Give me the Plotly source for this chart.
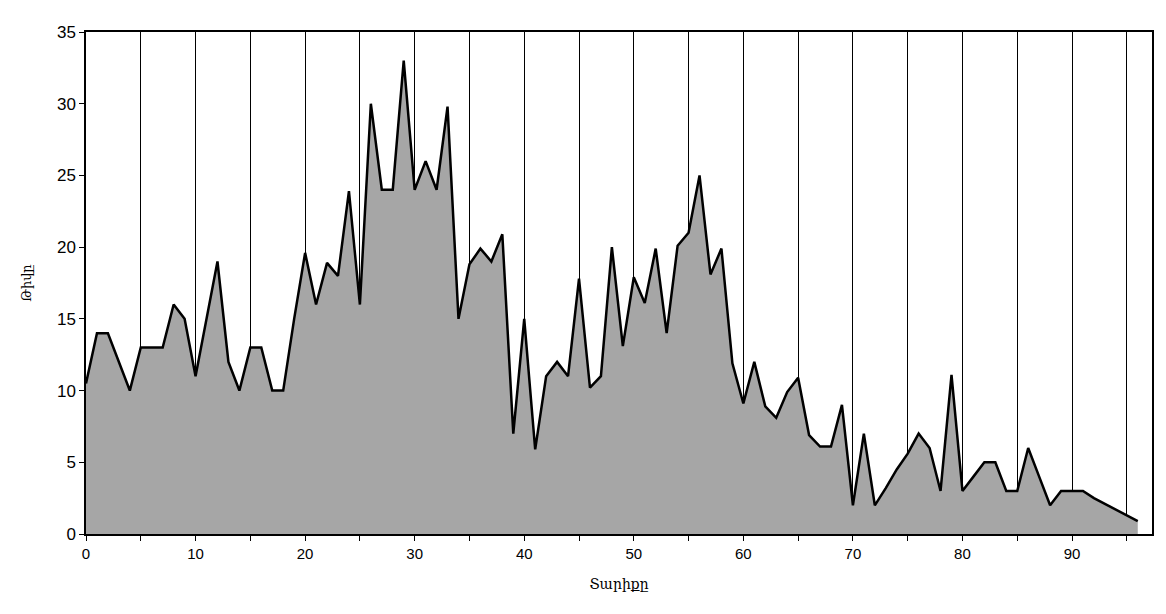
import plotly.graph_objects as go

ages = list(range(0, 97))
counts = [
    10.5, 14, 14, 12, 10, 13, 13, 13, 16, 15,
    11, 15, 19, 12, 10, 13, 13, 10, 10, 15,
    19.6, 16, 18.9, 18, 23.9, 16, 30, 24, 24, 33,
    24, 26, 24, 29.8, 15, 18.8, 19.9, 19, 20.9, 7,
    15, 5.9, 11, 12, 11, 17.8, 10.2, 11, 20, 13.1,
    17.9, 16.1, 19.9, 14, 20.1, 21, 25, 18.1, 19.9, 11.9,
    9.1, 12, 8.9, 8.1, 9.9, 10.9, 6.9, 6.1, 6.1, 9,
    2, 7, 2, 3.2, 4.5, 5.6, 7, 6, 3, 11.1,
    3, 4, 5, 5, 3, 3, 6, 4, 2, 3,
    3, 3, 2.5, 2.1, 1.7, 1.3, 0.9,
]
x_title = "Տարիքը"
y_title = "Թիվը"
x_ticks = [0, 10, 20, 30, 40, 50, 60, 70, 80, 90]
y_ticks = [0, 5, 10, 15, 20, 25, 30, 35]

fig = go.Figure()
fig.add_trace(go.Scatter(
    x=ages, y=counts, mode="lines", fill="tozeroy",
    fillcolor="#a6a6a6", line=dict(color="black", width=2.5),
    showlegend=False, hoverinfo="x+y",
))

fig.update_layout(
    width=1166, height=614,
    margin=dict(l=78, r=22, t=24, b=88),
    paper_bgcolor="white", plot_bgcolor="white",
    font=dict(family="Liberation Sans, Arial, sans-serif", color="black"),
)
fig.update_xaxes(
    range=[0, 97.3], tickvals=x_ticks, ticks="outside", ticklen=5,
    tickcolor="black", tickfont=dict(size=15),
    showgrid=True, gridcolor="black", gridwidth=1,
    minor=dict(dtick=5, tick0=0, showgrid=True, gridcolor="black",
               gridwidth=1, ticks="outside", ticklen=5, tickcolor="black"),
    showline=True, linecolor="black", linewidth=1.5, mirror=True,
    zeroline=False,
    title=dict(text=x_title, font=dict(family="DejaVu Serif", size=14), standoff=18),
)
fig.update_yaxes(
    range=[0, 35], tickvals=y_ticks, ticks="outside", ticklen=5,
    tickcolor="black", tickfont=dict(size=17),
    showgrid=False, zeroline=False,
    showline=True, linecolor="black", linewidth=1.5, mirror=True,
    title=dict(text=y_title, font=dict(family="DejaVu Serif", size=13), standoff=22),
)

fig.write_html("out.html")
